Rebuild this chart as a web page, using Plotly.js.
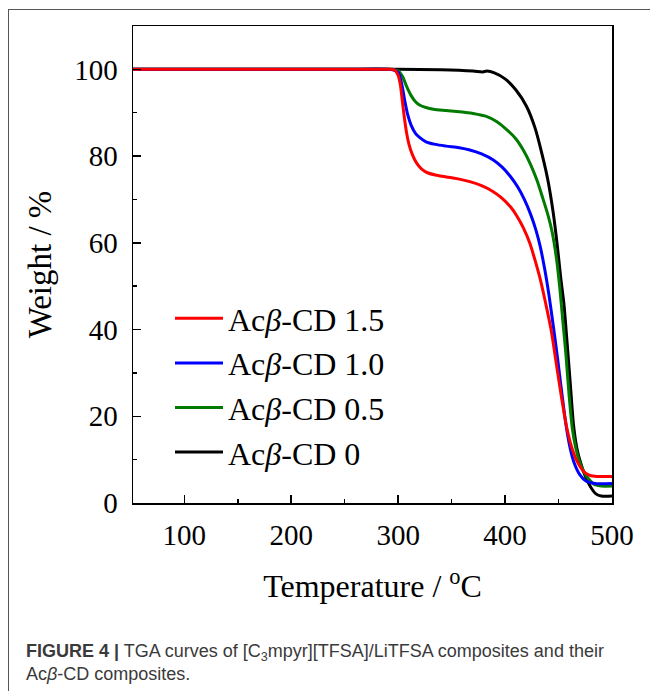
<!DOCTYPE html>
<html>
<head>
<meta charset="utf-8">
<script src="https://cdn.plot.ly/plotly-3.0.1.min.js"></script>
<style>html,body{margin:0;padding:0;background:#fff;}#chart{width:650px;height:691px;}</style>
</head>
<body>
<div id="chart"></div>
<script>
// Temperature (°C) and weight (%) for each composition
const t_15 = [52, 150, 250, 293, 297, 300, 302, 304, 306, 308, 310, 313, 317, 322, 328, 336, 345, 355, 367, 378, 389, 397, 405, 411, 417, 423, 428, 433, 438, 443, 448, 453, 458, 463, 468, 473, 478, 484, 490, 500];
const w_15 = [100, 100, 100, 100, 99.8, 98.6, 96.5, 92.5, 88.5, 85.2, 82.8, 80.5, 78.5, 77, 76.1, 75.6, 75.2, 74.8, 74.1, 73.2, 71.8, 70.3, 68.3, 66.2, 63.5, 60, 56, 51.5, 46, 40, 32, 24, 17, 12.3, 9.3, 7.4, 6.5, 6.15, 6.1, 6.1];

const t_10 = [52, 150, 250, 295, 300, 303, 306, 309, 312, 316, 320, 326, 335, 345, 357, 367, 378, 389, 397, 405, 412, 418, 424, 429, 433, 437, 441, 445, 449, 453, 457, 461, 465, 470, 476, 484, 500];
const w_10 = [100, 100, 100, 99.9, 99.3, 97, 93, 89.5, 87.2, 85.3, 84.3, 83.3, 82.7, 82.3, 81.9, 81.4, 80.5, 79.1, 77.5, 75.3, 72.8, 70, 66.5, 62.8, 59, 54, 48, 41, 33.5, 25.5, 18, 12.5, 9, 6.5, 5, 4.5, 4.5];

const t_05 = [52, 150, 250, 295, 300, 304, 308, 312, 316, 320, 326, 333, 345, 358, 370, 383, 392, 402, 410, 417, 424, 430, 435, 440, 444, 448, 451, 454, 457, 460, 463, 466, 469, 473, 478, 484, 490, 500];
const w_05 = [100, 100, 100, 100, 99.7, 98.4, 96, 94, 92.6, 91.8, 91.2, 90.8, 90.5, 90.2, 89.8, 89.1, 88, 86, 84, 81.4, 78, 74.3, 70.5, 66.5, 62.5, 56.5, 50, 42, 34, 24.5, 17, 12.8, 10, 7.5, 5.6, 4.2, 3.9, 3.9];

const t_00 = [52, 150, 250, 300, 340, 370, 379, 383, 390, 400, 410, 420, 428, 435, 440, 445, 449, 452, 455, 458, 461, 464, 467, 470, 475, 480, 485, 490, 500];
const w_00 = [100, 100, 100, 100, 99.9, 99.6, 99.4, 99.6, 99.2, 97.8, 95.3, 91.5, 86.5, 80, 74.5, 67, 59, 52, 46, 37, 27.5, 18, 12.8, 9.8, 6.2, 3.7, 2.1, 1.6, 1.6];

const seriesNames = ["Ac<i>β</i>-CD 1.5", "Ac<i>β</i>-CD 1.0", "Ac<i>β</i>-CD 0.5", "Ac<i>β</i>-CD 0"];
const seriesColors = ["#ff0000", "#0000ff", "#007a00", "#000000"];
const seriesT = [t_15, t_10, t_05, t_00];
const seriesW = [w_15, w_10, w_05, w_00];

const xTicks = [100, 200, 300, 400, 500];
const yTicks = [0, 20, 40, 60, 80, 100];

const traces = [];
// draw black first so colored lines lie on top; legend order kept via legendrank
for (let i = seriesW.length - 1; i >= 0; i--) {
  traces.push({
    x: seriesT[i], y: seriesW[i], type: 'scatter', mode: 'lines',
    name: seriesNames[i], legendrank: i + 1,
    line: {color: seriesColors[i], width: 3, shape: 'spline', smoothing: 0.8}
  });
}

const serif = '"Liberation Serif", "Times New Roman", serif';
const W = 650, H = 691, mL = 133, mR = 38, mT = 26, mB = 188;
const pw = W - mL - mR, ph = H - mT - mB;
const px = v => (v - mL) / pw;
const py = v => (H - mB - v) / ph;

const layout = {
  width: W, height: H,
  margin: {l: mL, r: mR, t: mT, b: mB, pad: 0},
  paper_bgcolor: '#fff', plot_bgcolor: '#fff',
  font: {family: serif, color: '#000', size: 29},
  showlegend: true,
  legend: {x: px(170), y: py(291), xanchor: 'left', yanchor: 'top', bgcolor: 'rgba(0,0,0,0)',
           itemwidth: 48,
           font: {family: serif, size: 32, color: '#000'}, tracegroupgap: 0, traceorder: 'normal'},
  xaxis: {
    range: [52, 500], tickvals: xTicks, ticks: 'inside', ticklen: 8, tickwidth: 1.5, tickcolor: '#000',
    minor: {dtick: 50, tick0: 0, ticks: 'inside', ticklen: 4, tickwidth: 1.5, tickcolor: '#000'},
    showline: true, mirror: true, linecolor: '#000', linewidth: 1.5, showgrid: false, zeroline: false,
    tickfont: {family: serif, size: 29}, ticklabelstandoff: 6,
    title: {text: 'Temperature / <sup>o</sup>C', font: {family: serif, size: 32}, standoff: 24}
  },
  yaxis: {
    range: [0, 110], tickvals: yTicks, ticks: 'inside', ticklen: 8, tickwidth: 1.5, tickcolor: '#000',
    minor: {dtick: 10, tick0: 0, ticks: 'inside', ticklen: 4, tickwidth: 1.5, tickcolor: '#000'},
    showline: true, mirror: true, linecolor: '#000', linewidth: 1.5, showgrid: false, zeroline: false,
    tickfont: {family: serif, size: 29}, ticklabelstandoff: 8,
    title: {text: 'Weight / %', font: {family: serif, size: 33}, standoff: 12}
  },
  shapes: [
    {type: 'line', xref: 'paper', yref: 'paper', x0: px(8), x1: px(650), y0: py(9.5), y1: py(9.5), line: {color: '#555', width: 1}},
    {type: 'line', xref: 'paper', yref: 'paper', x0: px(8.5), x1: px(8.5), y0: py(9.5), y1: py(691), line: {color: '#555', width: 1}}
  ],
  annotations: [
    {xref: 'paper', yref: 'paper', x: px(24), y: py(639), xanchor: 'left', yanchor: 'top', align: 'left', showarrow: false,
     text: '<b>FIGURE 4 |</b> TGA curves of [C<sub>3</sub>mpyr][TFSA]/LiTFSA composites and their<br>Ac<i>β</i>-CD composites.',
     font: {family: '"Liberation Sans", Arial, sans-serif', size: 18, color: '#3a3a3a'}}
  ]
};

Plotly.newPlot('chart', traces, layout, {displayModeBar: false, staticPlot: true});
</script>
</body>
</html>
